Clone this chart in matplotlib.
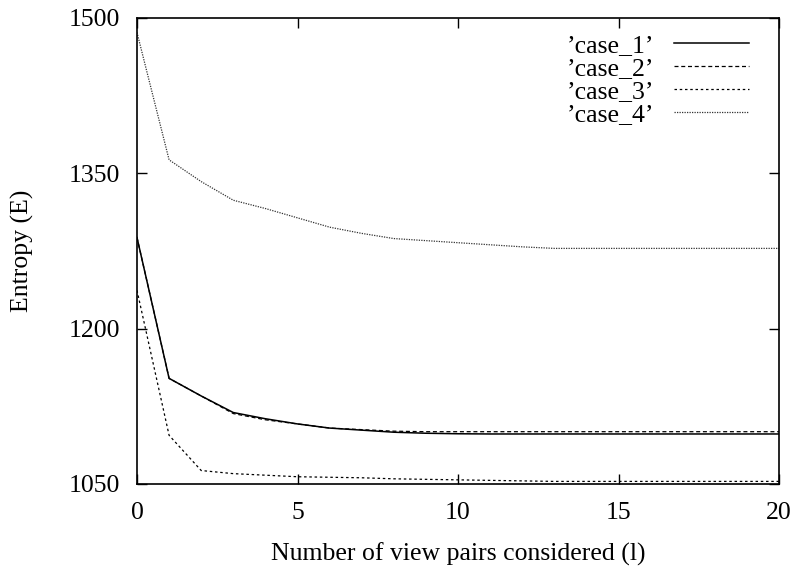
import numpy as np
import matplotlib
matplotlib.use('Agg')
import matplotlib.pyplot as plt

plt.rcParams['font.family'] = ['Liberation Serif', 'DejaVu Serif']

l = np.arange(0, 21)
case_1 = [1288, 1152, 1135, 1119, 1113, 1108, 1104, 1102, 1100, 1099, 1098.5, 1098.3, 1098.3,
          1098.3, 1098.3, 1098.3, 1098.3, 1098.3, 1098.3, 1098.3, 1098.3]
case_2 = [1288, 1152, 1135, 1118, 1112, 1108, 1104, 1102.5, 1101, 1100.5, 1100.5, 1100.5, 1100.5,
          1100.5, 1100.5, 1100.5, 1100.5, 1100.5, 1100.5, 1100.5, 1100.5]
case_3 = [1237, 1097, 1063, 1060, 1058.5, 1057, 1056.5, 1056, 1055, 1054.5, 1054, 1053.5, 1053,
          1052.5, 1052.5, 1052.5, 1052.5, 1052.5, 1052.5, 1052.5, 1052.5]
case_4 = [1486, 1363, 1342, 1324, 1316, 1307, 1298, 1292, 1287, 1285, 1283, 1281, 1279,
          1277.5, 1277.5, 1277.5, 1277.5, 1277.5, 1277.5, 1277.5, 1277.5]
labels = ["\u2019case_1\u2019", "\u2019case_2\u2019", "\u2019case_3\u2019", "\u2019case_4\u2019"]

fig = plt.figure(figsize=(7.96, 5.69), dpi=100)
ax = fig.add_axes((0.1721, 0.1494, 0.8066, 0.819))

ax.plot(l, case_1, color='black', lw=1.1, ls='-', label=labels[0])
ax.plot(l, case_2, color='black', lw=0.9, ls=(0, (3.2, 2.2)), label=labels[1])
ax.plot(l, case_3, color='black', lw=0.9, ls=(0, (2, 2.2)), label=labels[2])
ax.plot(l, case_4, color='#333333', lw=0.9, ls=(0, (1, 1)), label=labels[3])

ax.set_xlim(0, 20)
ax.set_ylim(1050, 1500)
ax.set_xticks([0, 5, 10, 15, 20])
ax.set_yticks([1050, 1200, 1350, 1500])
ax.tick_params(direction='in', top=True, right=True, labelsize=18.5, length=7, width=1)
ax.tick_params(axis='y', pad=12)
ax.tick_params(axis='x', pad=13)
for s in ax.spines.values():
    s.set_linewidth(1.2)

ax.set_xlabel('Number of view pairs considered (l)', fontsize=18.5, labelpad=13)
ax.set_ylabel('Entropy (E)', fontsize=18.5, labelpad=25)

ax.legend(loc='upper right', markerfirst=False, frameon=False, fontsize=18.5,
          handlelength=2.9, labelspacing=0.0, handletextpad=0.8,
          borderaxespad=0.0, borderpad=0.3, bbox_to_anchor=(0.965, 0.983))

fig.savefig('out.png', dpi=100)
